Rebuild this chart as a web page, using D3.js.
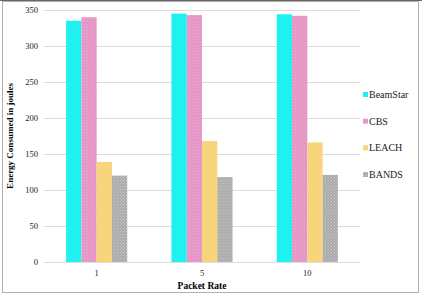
<!DOCTYPE html>
<html>
<head>
<meta charset="utf-8">
<script src="https://cdn.jsdelivr.net/npm/d3@7"></script>
<style>
  body { margin: 0; background: #fff; }
  svg { display: block; }
</style>
</head>
<body>
<svg id="mainsvg" width="422" height="297"></svg>
<script>
const packetRates = ['1', '5', '10']
const seriesNames = ['BeamStar', 'CBS', 'LEACH', 'BANDS']
const beamStar = [335, 345, 344]
const cbs = [340, 343, 342]
const leach = [139, 168, 166]
const bands = [120, 118, 121]
const yTicks = [0, 50, 100, 150, 200, 250, 300, 350]

const seriesValues = [beamStar, cbs, leach, bands]
const fills = ['#1ff0f0', 'url(#pinkDots)', '#f8d57a', 'url(#grayDots)']

const svg = d3.select('#mainsvg')
const font = '"Liberation Serif", "Times New Roman", serif'

// patterns for the textured bars
const defs = svg.append('defs')
function dotPattern(id, base, dot) {
    const p = defs.append('pattern')
        .attr('id', id)
        .attr('patternUnits', 'userSpaceOnUse')
        .attr('width', 3).attr('height', 3)
    p.append('rect').attr('width', 3).attr('height', 3).attr('fill', base)
    p.append('rect').attr('x', 0).attr('y', 0).attr('width', 1).attr('height', 1).attr('fill', dot)
    p.append('rect').attr('x', 1.5).attr('y', 1.5).attr('width', 1).attr('height', 1).attr('fill', dot)
}
dotPattern('pinkDots', '#ee8cc4', '#c8c8d8')
dotPattern('grayDots', '#a9a9a9', '#cfcfcf')

// outer frame
svg.append('rect')
    .attr('x', 2.5).attr('y', 1.5)
    .attr('width', 416).attr('height', 291)
    .attr('fill', 'none')
    .attr('stroke', '#b0b0b0')
svg.append('line')
    .attr('x1', 0).attr('x2', 422).attr('y1', 0.5).attr('y2', 0.5)
    .attr('stroke', '#666')

const plot = {left: 44, right: 360, top: 10, bottom: 262}

const x0 = d3.scaleBand()
    .domain(packetRates)
    .range([plot.left, plot.right])
    .paddingInner(0.42)
    .paddingOuter(0.21)
const x1 = d3.scaleBand()
    .domain(seriesNames)
    .range([0, x0.bandwidth()])
const y = d3.scaleLinear()
    .domain([0, 350])
    .range([plot.bottom, plot.top])

// gridlines
svg.append('g')
    .selectAll('line')
    .data(yTicks)
    .join('line')
    .attr('x1', plot.left).attr('x2', plot.right)
    .attr('y1', d => Math.round(y(d)) + 0.5)
    .attr('y2', d => Math.round(y(d)) + 0.5)
    .attr('stroke', '#dcdcdc')

// y axis labels
const yAxis = svg.append('g')
    .attr('transform', `translate(${plot.left},0)`)
    .call(d3.axisLeft(y).tickValues(yTicks).tickSize(0).tickPadding(6))
yAxis.select('.domain').remove()
yAxis.selectAll('text')
    .attr('font-family', font)
    .attr('font-size', 8.5)
    .attr('fill', '#222')

// x axis labels
const xAxis = svg.append('g')
    .attr('transform', `translate(0,${plot.bottom})`)
    .call(d3.axisBottom(x0).tickSize(0).tickPadding(8))
xAxis.select('.domain').remove()
xAxis.selectAll('text')
    .attr('font-family', font)
    .attr('font-size', 8.5)
    .attr('fill', '#222')

// bars
const groups = svg.append('g')
    .selectAll('g')
    .data(packetRates)
    .join('g')
    .attr('transform', d => `translate(${x0(d)},0)`)

groups.selectAll('rect')
    .data((d, i) => seriesNames.map((s, j) => ({s, j, v: seriesValues[j][i]})))
    .join('rect')
    .attr('x', d => x1(d.s))
    .attr('y', d => y(d.v))
    .attr('width', x1.bandwidth())
    .attr('height', d => y(0) - y(d.v))
    .attr('fill', d => fills[d.j])

// axis titles
svg.append('text')
    .attr('x', (plot.left + plot.right) / 2)
    .attr('y', 289)
    .attr('text-anchor', 'middle')
    .attr('font-family', font)
    .attr('font-size', 9.5)
    .attr('font-weight', 'bold')
    .text('Packet Rate')

svg.append('text')
    .attr('transform', `translate(13,${(plot.top + plot.bottom) / 2}) rotate(-90)`)
    .attr('text-anchor', 'middle')
    .attr('font-family', font)
    .attr('font-size', 9)
    .attr('font-weight', 'bold')
    .text('Energy Consumed in joules')

// legend
const legendY = d3.scalePoint()
    .domain(seriesNames)
    .range([95, 175])
const legend = svg.append('g')
    .selectAll('g')
    .data(seriesNames)
    .join('g')
    .attr('transform', d => `translate(363,${legendY(d)})`)
legend.append('rect')
    .attr('x', 0).attr('y', -3)
    .attr('width', 5).attr('height', 5)
    .attr('fill', (d, i) => fills[i])
legend.append('text')
    .attr('x', 6).attr('y', 3)
    .attr('font-family', font)
    .attr('font-size', 10)
    .attr('fill', '#222')
    .text(d => d)
</script>
</body>
</html>
